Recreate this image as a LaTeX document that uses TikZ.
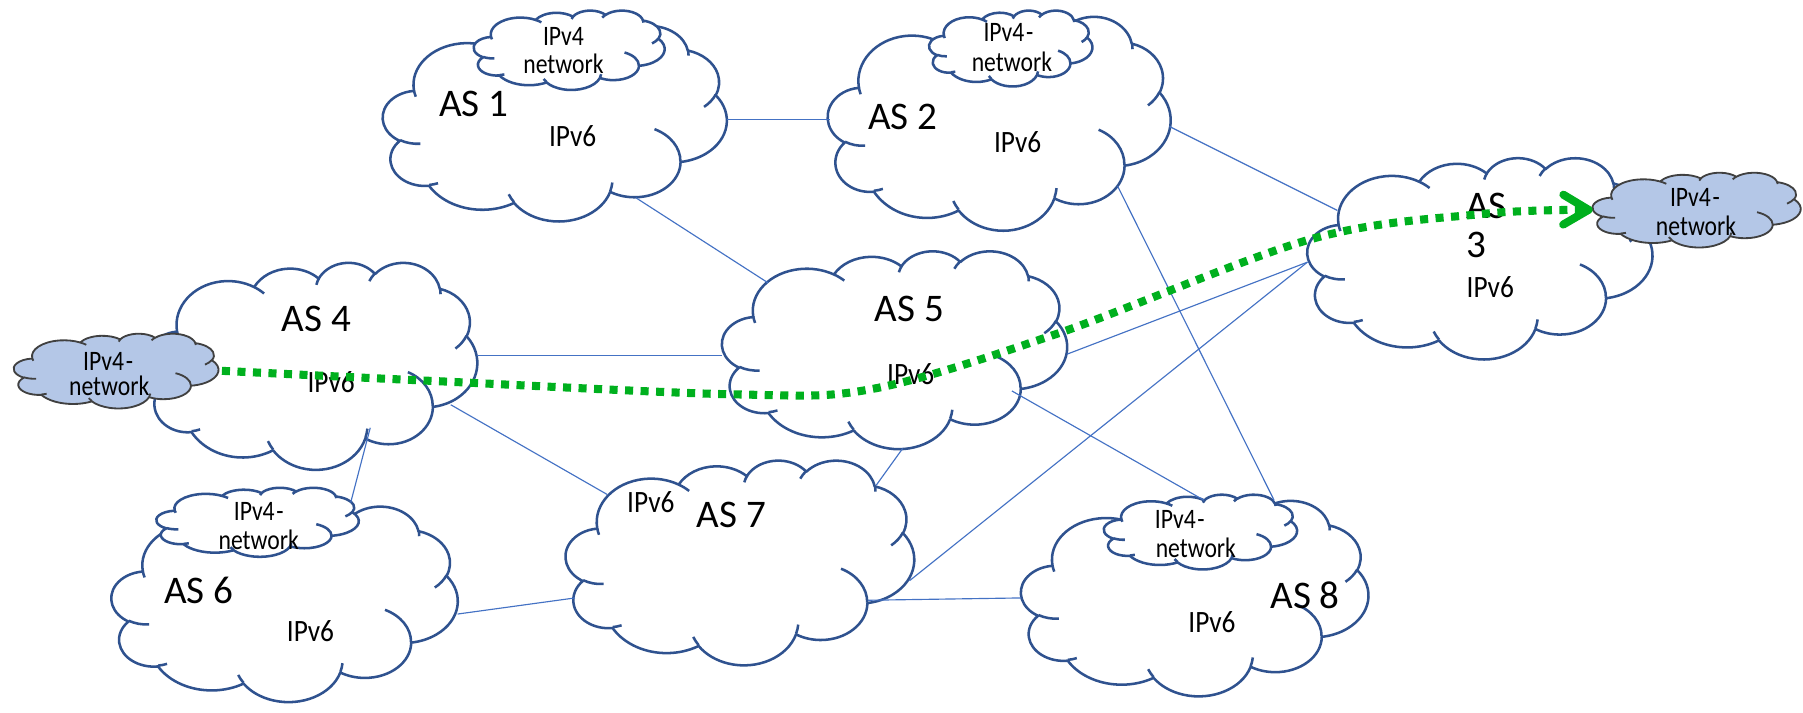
\documentclass[tikz,border=0pt]{standalone}
\usepackage{fontspec}
\setmainfont{Carlito}
\newfontfamily\narrowfont[FakeStretch=0.88]{Carlito}
\newfontfamily\smallnarrow[FakeStretch=0.84]{Carlito}
\usetikzlibrary{arrows.meta}
\definecolor{cloudline}{HTML}{2F528F}
\definecolor{linkblue}{HTML}{4472C4}
\definecolor{vfourfill}{HTML}{B4C7E7}
\definecolor{vfourline}{HTML}{404040}
\definecolor{pathgreen}{HTML}{00B01E}

\makeatletter
% OOXML arcTo (visual angles) -> TikZ parametric arc
\newcommand\mkcarc[5]{%
  \pgfmathsetmacro\cl@ts{atan2((#2)*sin(#4),(#3)*cos(#4))}%
  \pgfmathsetmacro\cl@te{atan2((#2)*sin((#4)+(#5)),(#3)*cos((#4)+(#5)))}%
  \pgfmathsetmacro\cl@dd{mod(\cl@te-\cl@ts+720,360)}%
  \expandafter\xdef\csname cloudarc#1\endcsname{arc[x radius=#2,y radius=#3,start angle=\cl@ts,delta angle=\cl@dd]}%
}
\makeatother
\mkcarc{A}{6.753}{9.190}{-190.48748}{123.78053}
\mkcarc{B}{5.333}{7.267}{-144.10238}{89.94523}
\mkcarc{C}{4.365}{5.945}{-145.80792}{99.72302}
\mkcarc{D}{4.857}{6.595}{-130.98607}{117.24173}
\mkcarc{E}{5.333}{7.273}{-78.70888}{109.02692}
\mkcarc{F}{6.775}{9.220}{-46.26725}{130.26900}
\mkcarc{G}{5.785}{7.867}{0.62502}{114.03333}
\mkcarc{H}{6.752}{9.215}{22.45160}{115.17255}
\mkcarc{I}{7.720}{10.543}{66.24263}{75.71102}
\mkcarc{J}{4.360}{5.918}{-274.94208}{146.73557}
\mkcarc{K}{4.345}{5.945}{-246.82850}{152.51885}
\mkcarc{a}{4.345}{5.945}{86.74200}{26.42950}
\mkcarc{b}{4.360}{5.918}{73.61047}{11.44747}
\mkcarc{c}{6.752}{9.215}{137.62415}{14.08110}
\mkcarc{d}{6.752}{9.215}{6.45327}{15.99835}
\mkcarc{e}{5.785}{7.867}{-70.29235}{70.91737}
\mkcarc{f}{5.333}{7.273}{30.31803}{27.75150}
\mkcarc{g}{4.857}{6.595}{-13.74433}{14.85890}
\mkcarc{h}{4.857}{6.595}{-149.18145}{18.19537}
\mkcarc{i}{4.365}{5.945}{-163.49427}{17.68635}
\mkcarc{j}{6.753}{9.190}{-66.70695}{12.31935}
\mkcarc{k}{6.753}{9.190}{157.65435}{11.85817}

% #1 name, #2 x1, #3 y1, #4 x2, #5 y2, #6 style
\newcommand\pptcloud[6]{%
  \node[cloudbox, minimum width={(#4)-(#2)}, minimum height={(#5)-(#3)}] (#1) at ({((#2)+(#4))/2},{((#3)+(#5))/2}) {};
  \begin{scope}[shift={(#2,#3)}, xscale={((#4)-(#2))/43.2}, yscale={((#5)-(#3))/43.2}]
    \path[#6] (3.9,14.37) \cloudarcA \cloudarcB \cloudarcC \cloudarcD \cloudarcE \cloudarcF \cloudarcG \cloudarcH \cloudarcI \cloudarcJ \cloudarcK -- cycle;
    \path[#6, fill=none] (4.693,26.177) \cloudarca (6.928,34.899) \cloudarcb (16.478,39.09) \cloudarcc (28.827,34.751) \cloudarcd (34.129,22.954) \cloudarce (41.798,15.354) \cloudarcf (38.324,5.426) \cloudarcg (29.078,3.952) \cloudarch (22.141,4.72) \cloudarci (14,5.192) \cloudarcj (4.127,15.789) \cloudarck;
  \end{scope}
}

\tikzset{
  cloudbox/.style={rectangle, inner sep=0pt, outer sep=0pt, draw=none},
  ascloud/.style={draw=cloudline, line width=2.2pt, fill=white, line join=round},
  vfourwhite/.style={draw=cloudline, line width=2.2pt, fill=white, line join=round},
  vfourblue/.style={draw=vfourline, line width=1.6pt, fill=vfourfill, line join=round},
  aslabel/.style={font=\fontsize{34}{36}\selectfont, inner sep=0pt, anchor=base},
  sixlabel/.style={font=\narrowfont\fontsize{27}{30}\selectfont, inner sep=0pt, anchor=base},
  fourlabel/.style={font=\smallnarrow\fontsize{24.5}{26}\selectfont, inner sep=0pt, anchor=base},
  link/.style={draw=linkblue, line width=1pt},
  greenpath/.style={draw=pathgreen, line width=7pt, dash pattern=on 7pt off 6.5pt,
    -{Straight Barb[length=22pt, width=26pt, round]}},
}

\begin{document}
\begin{tikzpicture}[x=1pt, y=-1pt]
\useasboundingbox (0,0) rectangle (1568,620);

% autonomous systems
\pptcloud{as1}{333}{22}{632}{192}{ascloud}
\pptcloud{as2}{720}{14}{1018}{200}{ascloud}
\pptcloud{as3}{1137}{137}{1437}{312}{ascloud}
\pptcloud{as4}{128}{228}{415}{408}{ascloud}
\pptcloud{as5}{628}{218}{928}{390}{ascloud}
\pptcloud{as6}{97}{440}{398}{610}{ascloud}
\pptcloud{as7}{492}{400}{795}{578}{ascloud}
\pptcloud{as8}{888}{435}{1190}{605}{ascloud}

% IPv4 islands
\pptcloud{as1v}{412}{9}{578}{78}{vfourwhite}
\pptcloud{as2v}{808}{9}{950}{75}{vfourwhite}
\pptcloud{as6v}{136}{424}{312}{484}{vfourwhite}
\pptcloud{as8v}{960}{430}{1128}{495}{vfourwhite}
\pptcloud{vL}{12}{290}{190}{355}{vfourblue}
\pptcloud{vR}{1385}{150}{1566}{215}{vfourblue}

% labels
\node[aslabel] (l1) at (412,101.5) {AS 1};
\node[aslabel] (l2) at (785,113) {AS 2};
\node[aslabel, align=left, anchor=north west, font=\fontsize{34}{34}\selectfont] (l3) at (1275,168) {AS\\3};
\node[aslabel] (l4) at (275,288) {AS 4};
\node[aslabel] (l5) at (791,280) {AS 5};
\node[aslabel] (l6) at (173,525) {AS 6};
\node[aslabel] (l7) at (636,459) {AS 7};
\node[aslabel] (l8) at (1135,529) {AS 8};

\node[sixlabel] (s1) at (498,127.5) {IPv6};
\node[sixlabel] (s2) at (885,133) {IPv6};
\node[sixlabel] (s3) at (1296,259) {IPv6};
\node[sixlabel] (s4) at (288,341) {IPv6};
\node[sixlabel] (s5) at (792,334) {IPv6};
\node[sixlabel] (s6) at (270,558) {IPv6};
\node[sixlabel] (s7) at (566,446) {IPv6};
\node[sixlabel] (s8) at (1054,550) {IPv6};

\node[fourlabel] (f1a) at (490,40) {IPv4};
\node[fourlabel] (f1b) at (490,64) {network};
\node[fourlabel] (f2a) at (877,36) {IPv4\kern1.5pt-};
\node[fourlabel] (f2b) at (880,62) {network};
\node[fourlabel] (fRa) at (1474,180) {IPv4\kern1.5pt-};
\node[fourlabel] (fRb) at (1475,205) {network};
\node[fourlabel] (fLa) at (94,322) {IPv4\kern1.5pt-};
\node[fourlabel] (fLb) at (95,344) {network};
\node[fourlabel] (f6a) at (225,453) {IPv4\kern1.5pt-};
\node[fourlabel] (f6b) at (225,478) {network};
\node[fourlabel] (f8a) at (1026,460) {IPv4\kern1.5pt-};
\node[fourlabel] (f8b) at (1040,485) {network};

% links
\draw[link] ([shift={(299,82)}]as1.north west) -- ([shift={(2,90)}]as2.north west);
\draw[link] ([shift={(220,150)}]as1.north west) -- ([shift={(40,28)}]as5.north west);
\draw[link] ([shift={(297,96)}]as2.north west) -- ([shift={(26,46)}]as3.north west);
\draw[link] ([shift={(252,148)}]as2.north west) -- ([shift={(148,5)}]as8v.north west);
\draw[link] ([shift={(0,91)}]as3.north west) -- ([shift={(300,90)}]as5.north west);
\draw[link] ([shift={(0,91)}]as3.north west) -- ([shift={(299,105)}]as7.north west);
\draw[link] ([shift={(287,81)}]as4.north west) -- ([shift={(0,91)}]as5.north west);
\draw[link] ([shift={(264,124)}]as4.north west) -- ([shift={(36,30)}]as7.north west);
\draw[link] ([shift={(194,144)}]as4.north west) -- ([shift={(169,13)}]as6v.north west);
\draw[link] ([shift={(157,172)}]as5.north west) -- ([shift={(270,22)}]as7.north west);
\draw[link] ([shift={(252,122)}]as5.north west) -- ([shift={(87,5)}]as8v.north west);
\draw[link] ([shift={(301,94)}]as6.north west) -- ([shift={(8,120)}]as7.north west);
\draw[link] ([shift={(263,122)}]as7.north west) -- ([shift={(0,85)}]as8.north west);

% IPv4 path across the IPv6 core
\draw[greenpath] plot[smooth, tension=0.55] coordinates {([xshift=3pt]vL.east) (370,331) (640,343) (760,338) (920,290) (1140,208) (1290,186) (vR.west)};
\end{tikzpicture}
\end{document}
